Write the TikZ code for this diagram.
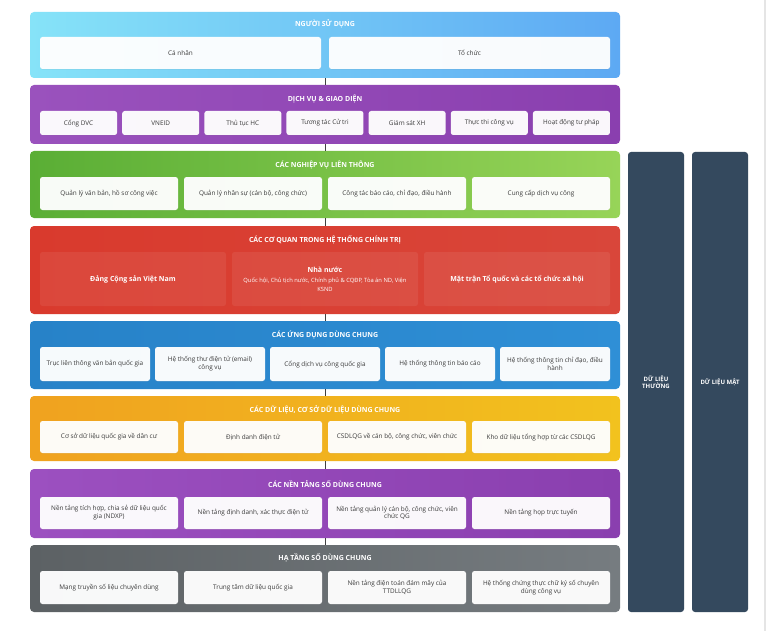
\documentclass[tikz,border=0pt]{standalone}
\usepackage{fontspec}
\setmainfont{Open Sans}
\usetikzlibrary{shadows}
\definecolor{cA1}{HTML}{86E3F8}\definecolor{cA2}{HTML}{5DA9F3}
\definecolor{cB1}{HTML}{9A52BD}\definecolor{cB2}{HTML}{8A3FAF}
\definecolor{cC1}{HTML}{5AAE35}\definecolor{cC2}{HTML}{97D458}
\definecolor{cD1}{HTML}{D93A2D}\definecolor{cD2}{HTML}{D9463A}
\definecolor{cE1}{HTML}{2782C8}\definecolor{cE2}{HTML}{2F8FD6}
\definecolor{cF1}{HTML}{F0A21F}\definecolor{cF2}{HTML}{F2C21E}
\definecolor{cG1}{HTML}{9C50C0}\definecolor{cG2}{HTML}{8A3FAF}
\definecolor{cH1}{HTML}{5C6164}\definecolor{cH2}{HTML}{767C80}
\definecolor{colbg}{HTML}{34495E}
\definecolor{cardtext}{HTML}{3A3A3A}
\begin{document}
\begin{tikzpicture}[x=1pt,y=-1pt,
  band/.style={rounded corners=4pt, draw=none, inner sep=0pt},
  card/.style={rounded corners=2.5pt, fill=white, fill opacity=0.96, text opacity=1,
    align=center, font=\fontsize{6.4}{7.8}\selectfont, text=cardtext, inner sep=1pt,
    drop shadow={opacity=0.12, shadow xshift=0pt, shadow yshift=-0.6pt}},
  redcard/.style={rounded corners=2.5pt, fill=white, fill opacity=0.07, text opacity=1,
    align=center, font=\bfseries\fontsize{7}{8.6}\selectfont, text=white, inner sep=1pt},
  ttl/.style={font=\bfseries\fontsize{7}{8.4}\selectfont, text=white, inner sep=0pt},
  conn/.style={draw=black!75, line width=0.9pt},
  column/.style={rounded corners=3pt, fill=colbg, draw=none, align=center,
    font=\bfseries\fontsize{6}{7.4}\selectfont, text=white, inner sep=0pt}
]
\useasboundingbox (0,0) rectangle (770,631);
\fill[white] (0,0) rectangle (770,631);
\draw[black!10, line width=1.5pt] (765,0) -- (765,631);

% bands
\node[band, left color=cA1, right color=cA2, minimum width=590pt, minimum height=66pt] (L1) at (325,45) {};
\node[band, left color=cB1, right color=cB2, minimum width=590pt, minimum height=59pt] (L2) at (325,114.5) {};
\node[band, left color=cC1, right color=cC2, minimum width=590pt, minimum height=67pt] (L3) at (325,184.5) {};
\node[band, left color=cD1, right color=cD2, minimum width=590pt, minimum height=88pt] (L4) at (325,270) {};
\node[band, left color=cE1, right color=cE2, minimum width=590pt, minimum height=68pt] (L5) at (325,355) {};
\node[band, left color=cF1, right color=cF2, minimum width=590pt, minimum height=65pt] (L6) at (325,428.5) {};
\node[band, left color=cG1, right color=cG2, minimum width=590pt, minimum height=69pt] (L7) at (325,503.5) {};
\node[band, left color=cH1, right color=cH2, minimum width=590pt, minimum height=67pt] (L8) at (325,578.5) {};

% connectors
\draw[conn] (L1.south) -- (L2.north);
\draw[conn] (L2.south) -- (L3.north);
\draw[conn] (L3.south) -- (L4.north);
\draw[conn] (L4.south) -- (L5.north);
\draw[conn] (L5.south) -- (L6.north);
\draw[conn] (L6.south) -- (L7.north);
\draw[conn] (L7.south) -- (L8.north);

% titles
\node[ttl] (T1) at (325,24) {NGƯỜI SỬ DỤNG};
\node[ttl] (T2) at (325,99) {DỊCH VỤ \& GIAO DIỆN};
\node[ttl] (T3) at (325,165) {CÁC NGHIỆP VỤ LIÊN THÔNG};
\node[ttl] (T4) at (325,240) {CÁC CƠ QUAN TRONG HỆ THỐNG CHÍNH TRỊ};
\node[ttl] (T5) at (325,335) {CÁC ỨNG DỤNG DÙNG CHUNG};
\node[ttl] (T6) at (325,410) {CÁC DỮ LIỆU, CƠ SỞ DỮ LIỆU DÙNG CHUNG};
\node[ttl] (T7) at (325,484) {CÁC NỀN TẢNG SỐ DÙNG CHUNG};
\node[ttl] (T8) at (325,558) {HẠ TẦNG SỐ DÙNG CHUNG};

% row 1
\foreach \t [count=\i] in {Cá nhân, Tổ chức}
  \node[card, minimum width=281pt, minimum height=32pt] (r1c\i) at ({40+140.5+(\i-1)*289},53) {\t};
% row 2
\foreach \t [count=\i] in {Cổng DVC, VNEID, Thủ tục HC, Tương tác Cử tri, Giám sát XH, Thực thi công vụ, Hoạt động tư pháp}
  \node[card, minimum width=77pt, minimum height=24pt] (r2c\i) at ({40+38.57+(\i-1)*82.14},123) {\t};
% row 3
\foreach \t [count=\i] in {{Quản lý văn bản, hồ sơ công việc}, {Quản lý nhân sự (cán bộ, công chức)}, {Công tác báo cáo, chỉ đạo, điều hành}, Cung cấp dịch vụ công}
  \node[card, minimum width=138pt, minimum height=33pt] (r3c\i) at ({109+(\i-1)*144},193.5) {\t};
% row 4
\node[redcard, minimum width=186pt, minimum height=54pt] (r4c1) at (133,279) {Đảng Cộng sản Việt Nam};
\node[redcard, minimum width=186pt, minimum height=54pt] (r4c2) at (325,279) {Nhà nước\\[1.5pt]\mdseries\fontsize{5.8}{7.4}\selectfont Quốc hội, Chủ tịch nước, Chính phủ \& CQĐP, Tòa án ND, Viện\\\mdseries\fontsize{5.8}{7.4}\selectfont KSND};
\node[redcard, minimum width=186pt, minimum height=54pt] (r4c3) at (517,279) {Mặt trận Tổ quốc và các tổ chức xã hội};
% row 5
\foreach \t [count=\i] in {Trục liên thông văn bản quốc gia, {Hệ thống thư điện tử (email)\\công vụ}, Cổng dịch vụ công quốc gia, Hệ thống thông tin báo cáo, {Hệ thống thông tin chỉ đạo, điều\\hành}}
  \node[card, minimum width=110pt, minimum height=34pt] (r5c\i) at ({95+(\i-1)*115},364) {\t};
% row 6
\foreach \t [count=\i] in {Cơ sở dữ liệu quốc gia về dân cư, Định danh điện tử, {CSDLQG về cán bộ, công chức, viên chức}, Kho dữ liệu tổng hợp từ các CSDLQG}
  \node[card, minimum width=138pt, minimum height=32pt] (r6c\i) at ({109+(\i-1)*144},437) {\t};
% row 7
\foreach \t [count=\i] in {{Nền tảng tích hợp, chia sẻ dữ liệu quốc\\gia (NDXP)}, {Nền tảng định danh, xác thực điện tử}, {Nền tảng quản lý cán bộ, công chức, viên\\chức QG}, Nền tảng họp trực tuyến}
  \node[card, minimum width=138pt, minimum height=32pt] (r7c\i) at ({109+(\i-1)*144},513) {\t};
% row 8
\foreach \t [count=\i] in {Mạng truyền số liệu chuyên dùng, Trung tâm dữ liệu quốc gia, {Nền tảng điện toán đám mây của\\TTDLLQG}, {Hệ thống chứng thực chữ ký số chuyên\\dùng công vụ}}
  \node[card, minimum width=138pt, minimum height=33pt] (r8c\i) at ({109+(\i-1)*144},587.5) {\t};

% side columns
\node[column, minimum width=56pt, minimum height=460pt] (colA) at (656,382) {DỮ LIỆU\\THƯỜNG};
\node[column, minimum width=56pt, minimum height=460pt] (colB) at (720,382) {DỮ LIỆU MẬT};
\end{tikzpicture}
\end{document}
